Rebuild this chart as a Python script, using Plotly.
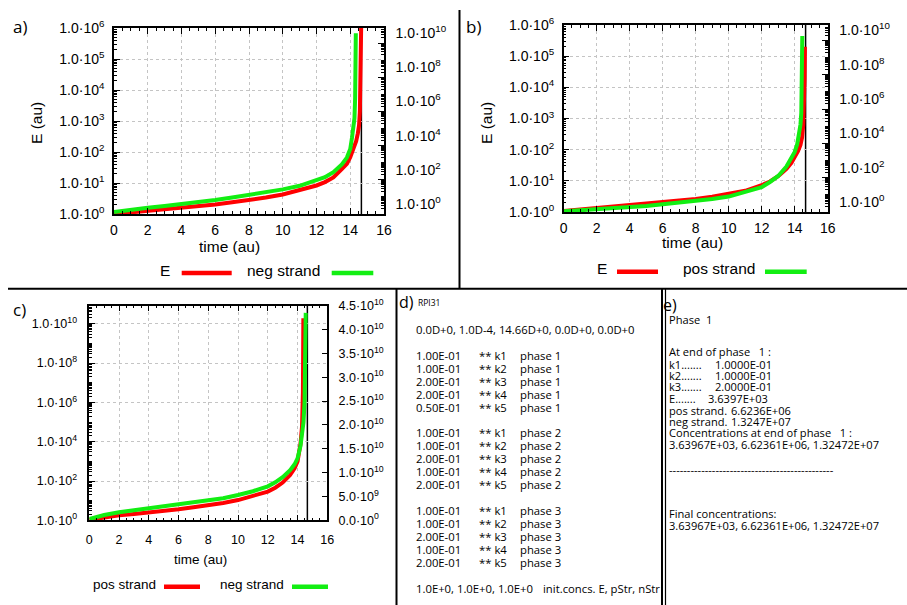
import plotly.graph_objects as go

W, H = 907, 605

# ---------------- data ----------------
T_END = 14.66  # end time marker (vertical line)

# panel a
t_a_E = [0, 1, 2, 3, 4, 5, 6, 7, 8, 9, 10, 11, 12, 12.5, 13, 13.5, 13.8, 14.0, 14.2, 14.35, 14.45, 14.52, 14.57, 14.61, 14.64, 14.66]
E_a = [1.0, 1.12, 1.26, 1.38, 1.51, 1.74, 2.04, 2.40, 2.82, 3.39, 4.27, 5.75, 8.32, 10.7, 15.1, 28.2, 41.7, 67.6, 126, 224, 398, 708, 2000, 1.6e4, 3.2e5, 3.2e6]
t_a_neg = [0, 1, 2, 3, 4, 5, 6, 7, 8, 9, 10, 11, 12, 12.5, 13, 13.5, 13.8, 14.0, 14.1, 14.2, 14.25, 14.29, 14.31, 14.33]
neg_a = [1.32, 1.86, 2.34, 2.95, 3.72, 4.90, 6.61, 9.12, 12.9, 18.6, 27.5, 44.7, 89.1, 141, 282, 794, 2000, 6310, 2.8e4, 1.0e5, 4.0e5, 6.3e6, 3.2e8, 3.7e10]

# panel b
t_b_E = [0, 1, 2, 3, 4, 5, 6, 7, 8, 9, 10, 11, 12, 12.5, 13, 13.5, 13.8, 14.0, 14.2, 14.35, 14.45, 14.52, 14.57, 14.6, 14.62]
E_b = [1.07, 1.20, 1.32, 1.45, 1.58, 1.78, 2.0, 2.29, 2.63, 3.09, 3.72, 4.79, 7.24, 9.55, 14.1, 24.0, 38.0, 55.0, 89.1, 141, 251, 631, 3160, 2.0e4, 2.0e5]
t_b_pos = [0, 1, 2, 3, 4, 5, 6, 7, 8, 9, 10, 11, 12, 12.5, 13, 13.5, 13.8, 14.0, 14.15, 14.25, 14.35, 14.4, 14.43, 14.46]
pos_b = [1.10, 1.26, 1.45, 1.62, 1.86, 2.24, 2.82, 3.47, 4.37, 5.75, 7.94, 14.1, 28.2, 56.2, 126, 447, 1260, 3160, 8910, 2.5e4, 1.26e5, 5.9e5, 3.2e7, 1.8e10]

# panel c
t_c_pos = [0, 1, 2, 3, 4, 5, 6, 7, 8, 9, 10, 11, 12, 12.5, 13, 13.5, 13.8, 14.0, 14.2, 14.3, 14.36, 14.39]
pos_c = [1.05, 1.41, 1.78, 2.09, 2.45, 2.95, 3.63, 4.57, 5.75, 7.59, 10.7, 16.6, 28.8, 45.7, 83.2, 200, 447, 1000, 7940, 5.75e4, 3.16e6, 1.9e10]
t_c_neg = [0, 1, 2, 3, 4, 5, 6, 7, 8, 9, 10, 11, 12, 12.5, 13, 13.5, 13.8, 14.0, 14.2, 14.3, 14.4, 14.47, 14.52, 14.55]
neg_c = [1.17, 1.86, 2.57, 3.24, 4.07, 4.90, 6.03, 7.59, 9.55, 13.2, 19.5, 30.2, 53.7, 85.1, 158, 355, 708, 1410, 6310, 2.0e4, 1.0e5, 1.0e6, 1.0e8, 3.6e10]

# tick values / labels
x_ticks = [0, 2, 4, 6, 8, 10, 12, 14, 16]
log6_vals = [1, 1e1, 1e2, 1e3, 1e4, 1e5, 1e6]
log6_text = ["1.0·10<sup>%d</sup>" % k for k in range(7)]
log10_vals = [1, 1e2, 1e4, 1e6, 1e8, 1e10]
log10_text = ["1.0·10<sup>%d</sup>" % k for k in (0, 2, 4, 6, 8, 10)]
lin_vals = [0, 5e9, 1e10, 1.5e10, 2e10, 2.5e10, 3e10, 3.5e10, 4e10, 4.5e10]
lin_text = ["0.0·10<sup>0</sup>", "5.0·10<sup>9</sup>", "1.0·10<sup>10</sup>", "1.5·10<sup>10</sup>",
            "2.0·10<sup>10</sup>", "2.5·10<sup>10</sup>", "3.0·10<sup>10</sup>", "3.5·10<sup>10</sup>",
            "4.0·10<sup>10</sup>", "4.5·10<sup>10</sup>"]

# text panel d
d_header = "0.0D+0, 1.0D-4, 14.66D+0, 0.0D+0, 0.0D+0"
d_k_values = [["1.00E-01", "1.00E-01", "2.00E-01", "2.00E-01", "0.50E-01"],
              ["1.00E-01", "1.00E-01", "2.00E-01", "1.00E-01", "2.00E-01"],
              ["1.00E-01", "1.00E-01", "2.00E-01", "1.00E-01", "2.00E-01"]]
d_k_names = ["** k1", "** k2", "** k3", "** k4", "** k5"]
d_footer = ["1.0E+0, 1.0E+0, 1.0E+0", "init.concs. E, pStr, nStr"]

# text panel e
e_lines = ["Phase\u00a0 1", "At end of phase \u00a0 1 :", None, None, None, None, None, None,
           "Concentrations at end of phase \u00a0 1 :", "3.63967E+03, 6.62361E+06, 1.32472E+07",
           "-" * 46, "Final concentrations:", "3.63967E+03, 6.62361E+06, 1.32472E+07"]
e_names = ["k1", "k2", "k3", "E", "pos strand", "neg strand"]
e_values = ["1.0000E-01", "1.0000E-01", "2.0000E-01", "3.6397E+03", "6.6236E+06", "1.3247E+07"]

# ---------------- layout helpers ----------------
RED = "#ff0000"
GREEN = "#12ee12"
AX_FONT = "Liberation Sans, Arial, sans-serif"
TXT_FONT = "Open Sans, Noto Sans, sans-serif"


def fx(x):
    return x / W


def fy(y):
    return 1 - y / H


annotations = []
shapes = []


def ann(text, x, y, size, xanchor="left", family=AX_FONT, textangle=0):
    annotations.append(dict(text=text, x=fx(x), y=fy(y), xref="paper", yref="paper",
                            xanchor=xanchor, yanchor="middle", showarrow=False,
                            textangle=textangle, borderpad=0,
                            font=dict(family=family, size=size, color="black")))


def hline(x0, x1, y, color="black", width=2):
    shapes.append(dict(type="line", xref="paper", yref="paper", x0=fx(x0), x1=fx(x1),
                       y0=fy(y), y1=fy(y), line=dict(color=color, width=width)))


def vline(x, y0, y1, color="black", width=2):
    shapes.append(dict(type="line", xref="paper", yref="paper", x0=fx(x), x1=fx(x),
                       y0=fy(y0), y1=fy(y1), line=dict(color=color, width=width)))


GRID = "#c4c4c4"


def xax(domain, anchor, size, standoff=2):
    return dict(domain=domain, anchor=anchor, range=[0, 16], tickvals=x_ticks, automargin=False,
                ticks="inside", ticklen=6, tickcolor="black", showline=True, linecolor="black",
                linewidth=1.5, mirror="ticks", showgrid=True, gridcolor=GRID, griddash="dot",
                gridwidth=1, zeroline=False, ticklabelstandoff=standoff,
                tickfont=dict(family=AX_FONT, size=size, color="black"),
                minor=dict(ticks="inside", ticklen=3, dtick=0.5, tickcolor="black"))


def yax_left(domain, anchor, rng, vals, text, size, standoff=5):
    return dict(domain=domain, anchor=anchor, type="log", range=rng, tickmode="array",
                tickvals=vals, ticktext=text, ticks="inside", ticklen=6, tickcolor="black",
                showline=True, linecolor="black", linewidth=1.5, showgrid=True, automargin=False,
                gridcolor=GRID, griddash="dot", gridwidth=1, zeroline=False,
                ticklabelstandoff=standoff,
                tickfont=dict(family=AX_FONT, size=size, color="black"),
                minor=dict(ticks="inside", ticklen=3, dtick="D1", tickcolor="black"))


def yax_right(overlay, anchor, typ, rng, vals, text, size, shift=0):
    d = dict(overlaying=overlay, anchor=anchor, side="right", type=typ, range=rng,
             tickmode="array", tickvals=vals, ticktext=text, ticks="inside", ticklen=6,
             tickcolor="black", showline=True, linecolor="black", linewidth=1.5, automargin=False,
             showgrid=False, zeroline=False, ticklabelstandoff=7, ticklabelshift=shift,
             tickfont=dict(family=AX_FONT, size=size, color="black"))
    if typ == "log":
        d["minor"] = dict(ticks="inside", ticklen=3, dtick="D1", tickcolor="black")
    return d


# ---------------- figure ----------------
fig = go.Figure()
LW = 4
fig.add_trace(go.Scatter(x=t_a_E, y=E_a, mode="lines", line=dict(color=RED, width=LW),
                         xaxis="x", yaxis="y", showlegend=False))
fig.add_trace(go.Scatter(x=t_a_neg, y=neg_a, mode="lines", line=dict(color=GREEN, width=LW),
                         xaxis="x", yaxis="y2", showlegend=False))
fig.add_trace(go.Scatter(x=t_b_E, y=E_b, mode="lines", line=dict(color=RED, width=LW),
                         xaxis="x2", yaxis="y3", showlegend=False))
fig.add_trace(go.Scatter(x=t_b_pos, y=pos_b, mode="lines", line=dict(color=GREEN, width=LW),
                         xaxis="x2", yaxis="y4", showlegend=False))
fig.add_trace(go.Scatter(x=t_c_pos, y=pos_c, mode="lines", line=dict(color=RED, width=LW),
                         xaxis="x3", yaxis="y5", showlegend=False))
fig.add_trace(go.Scatter(x=t_c_neg, y=neg_c, mode="lines", line=dict(color=GREEN, width=LW),
                         xaxis="x3", yaxis="y5", showlegend=False))
# keep linear right axis of panel c alive
fig.add_trace(go.Scatter(x=[None], y=[None], mode="lines", xaxis="x3", yaxis="y6",
                         showlegend=False, hoverinfo="skip"))

dom_a_x = [fx(114), fx(384)]
dom_a_y = [fy(214), fy(28)]
dom_b_x = [fx(563.7), fx(827.7)]
dom_b_y = [fy(212), fy(25)]
dom_c_x = [fx(89.3), fx(327.3)]
dom_c_y = [fy(520.3), fy(305.7)]

S_AB = 14
S_C = 12.5

# end-time vertical markers
for xr, yr in (("x", "y"), ("x2", "y3"), ("x3", "y5")):
    shapes.append(dict(type="line", xref=xr, yref=yr + " domain", x0=T_END, x1=T_END, y0=0, y1=1,
                       line=dict(color="black", width=1.5), layer="below"))

# axis titles
ann("E (au)", 37, 123, 15.5, xanchor="center", textangle=-90)
ann("time (au)", 229, 246.5, 15.5, xanchor="center")
ann("E (au)", 487, 123, 15.5, xanchor="center", textangle=-90)
ann("time (au)", 692, 242.5, 15.5, xanchor="center")
ann("time (au)", 200, 559, 13.5, xanchor="center")

# panel letters
ann("a)", 12, 26, 17, family=TXT_FONT)
ann("b)", 465, 26, 17, family=TXT_FONT)
ann("c)", 12, 309, 17, family=TXT_FONT)
ann("d)", 398, 302, 16, family=TXT_FONT)
ann("e)", 662, 305, 16, family=TXT_FONT)

# legends
ann("E", 171, 270, 15.5, xanchor="right")
hline(181.7, 231.7, 273, RED, 4.5)
ann("neg strand", 246, 270, 15.5)
hline(331.7, 373.3, 273, GREEN, 4.5)

ann("E", 608, 268.5, 15.5, xanchor="right")
hline(617, 658, 271.7, RED, 4.5)
ann("pos strand", 682, 268.5, 15.5)
hline(765, 806.7, 271.7, GREEN, 4.5)

ann("pos strand", 156.5, 584.5, 13.5, xanchor="right")
hline(164, 200, 586.7, RED, 4.5)
ann("neg strand", 219, 584.5, 13.5)
hline(292, 328, 586.7, GREEN, 4.5)

# separators
hline(8, 907, 288.8, width=2)
vline(459.5, 10, 288.8, width=2)
vline(396.5, 288.8, 605, width=2)
vline(662, 288.8, 605, width=2)
vline(665.5, 288.8, 605, width=1.2)

# text panel d
ann("RPI31", 417, 302.5, 8.5, family=TXT_FONT)
D_LINE0 = 329.3
D_STEP = 12.95
ann(d_header, 415, D_LINE0, 11.3, family=TXT_FONT)
for g, group in enumerate(d_k_values):
    for i, val in enumerate(group):
        y = D_LINE0 + D_STEP * (2 + g * 6 + i)
        ann(val, 415, y, 11.3, family=TXT_FONT)
        ann(d_k_names[i], 477.5, y, 11.3, family=TXT_FONT)
        ann("phase %d" % (g + 1), 519, y, 11.3, family=TXT_FONT)
y_foot = D_LINE0 + D_STEP * 20
ann(d_footer[0], 415, y_foot, 11.3, family=TXT_FONT)
ann(d_footer[1], 542, y_foot, 11.3, family=TXT_FONT)

# text panel e
E_FS = 11.1
e_y = [319.3, 351.7, 364.3, 375.7, 386.7, 398.3, 410, 421, 432.7, 444.3, 469, 513.3, 525]
for txt, y in zip(e_lines, e_y):
    if txt is not None:
        ann(txt, 667.5, y, E_FS, family=TXT_FONT)
val_x = [714, 714, 714, 706.5, 730, 730]
dots = [7, 7, 7, 7, 1, 1]
for i in range(6):
    y = e_y[2 + i]
    ann(e_names[i] + "." * dots[i], 667.5, y, E_FS, family=TXT_FONT)
    ann(e_values[i], val_x[i], y, E_FS, family=TXT_FONT)

fig.update_layout(
    width=W, height=H, margin=dict(l=0, r=0, t=0, b=0, autoexpand=False),
    paper_bgcolor="white", plot_bgcolor="white", showlegend=False,
    xaxis=xax(dom_a_x, "y", S_AB),
    yaxis=yax_left(dom_a_y, "x", [0, 6], log6_vals, log6_text, S_AB),
    yaxis2=yax_right("y", "x", "log", [0, 10.88], log10_vals, log10_text, S_AB, shift=-10),
    xaxis2=xax(dom_b_x, "y3", S_AB),
    yaxis3=yax_left(dom_b_y, "x2", [0, 6], log6_vals, log6_text, S_AB),
    yaxis4=yax_right("y3", "x2", "log", [0, 10.9], log10_vals, log10_text, S_AB, shift=-10),
    xaxis3=xax(dom_c_x, "y5", S_C, standoff=7),
    yaxis5=yax_left(dom_c_y, "x3", [0, 10.92], log10_vals, log10_text, S_C, standoff=8),
    yaxis6=yax_right("y5", "x3", "linear", [0, 4.5e10], lin_vals, lin_text, S_C),
    annotations=annotations, shapes=shapes,
)
fig.update_layout(yaxis2_domain=dom_a_y, yaxis4_domain=dom_b_y, yaxis6_domain=dom_c_y)

fig.write_html("out.html", config={"displayModeBar": False},
               post_script="document.body.style.margin='0px';")
